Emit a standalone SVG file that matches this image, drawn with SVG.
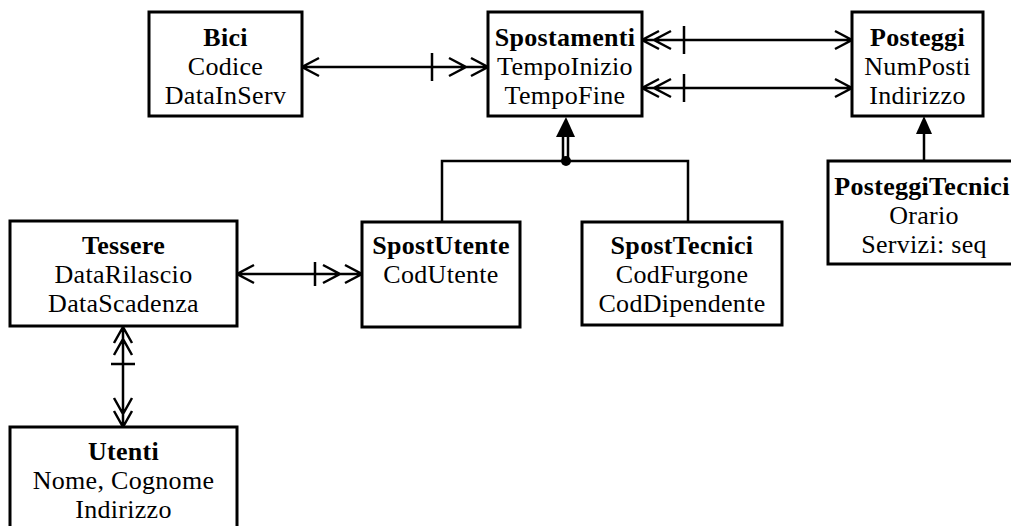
<svg xmlns="http://www.w3.org/2000/svg" width="1011" height="526" viewBox="0 0 1011 526">
<style>
.box{fill:#fff;stroke:#000;stroke-width:3}
.t{font-family:"Liberation Serif","Times New Roman",serif;font-size:26px;text-anchor:middle;fill:#000;letter-spacing:0.3px}
.b{font-weight:bold;letter-spacing:0.3px}
.ln{fill:none;stroke:#000;stroke-width:2.5}
.fill{fill:#000;stroke:none}
</style>
<rect width="1011" height="526" fill="#fff"/>
<g id="connectors">
  <!-- Bici - Spostamenti -->
  <path class="ln" d="M302,67 H488 M319,58 L302,67 L319,76 M432,53 V81 M449,58 L466,67 L449,76 M471,58 L488,67 L471,76"/>
  <!-- Spostamenti - Posteggi (upper) -->
  <path class="ln" d="M642,40 H852 M659,31 L642,40 L659,49 M671,31 L654,40 L671,49 M684,26 V54 M835,31 L852,40 L835,49"/>
  <!-- Spostamenti - Posteggi (lower) -->
  <path class="ln" d="M642,88 H852 M659,79 L642,88 L659,97 M671,79 L654,88 L671,97 M684,74 V102 M835,79 L852,88 L835,97"/>
  <!-- Tessere - SpostUtente -->
  <path class="ln" d="M237,274 H362 M254,265 L237,274 L254,283 M315,262 V286 M323,265 L340,274 L323,283 M345,265 L362,274 L345,283"/>
  <!-- Tessere - Utenti -->
  <path class="ln" d="M123,326 V427 M114,343 L123,327 L132,343 M114,355 L123,339 L132,355 M111,364 H135 M114,398 L123,414 L132,398 M114,411 L123,427 L132,411"/>
  <!-- Generalization -->
  <path class="ln" d="M442,222 V161 H688 V222"/>
  <path class="ln" d="M563,137 V161 M568,137 V161" stroke-width="2"/>
  <path class="fill" d="M566,117 L575,137 L556,137 Z"/>
  <circle class="fill" cx="566" cy="161" r="5"/>
  <!-- PosteggiTecnici -> Posteggi -->
  <path class="ln" d="M924,161 V132"/>
  <path class="fill" d="M924,116 L932,134 L916,134 Z"/>
</g>
<g id="bici">
  <rect class="box" x="149" y="12" width="153" height="104"/>
  <text class="t b" x="225.5" y="46">Bici</text>
  <text class="t" x="225.5" y="75">Codice</text>
  <text class="t" x="225.5" y="104">DataInServ</text>
</g>
<g id="spostamenti">
  <rect class="box" x="488" y="12" width="154" height="104"/>
  <text class="t b" x="565" y="46">Spostamenti</text>
  <text class="t" x="565" y="75">TempoInizio</text>
  <text class="t" x="565" y="104">TempoFine</text>
</g>
<g id="posteggi">
  <rect class="box" x="852" y="12" width="131" height="104"/>
  <text class="t b" x="917.5" y="46">Posteggi</text>
  <text class="t" x="917.5" y="75">NumPosti</text>
  <text class="t" x="917.5" y="104">Indirizzo</text>
</g>
<g id="posteggiTecnici">
  <rect class="box" x="828" y="161" width="196" height="103"/>
  <text class="t b" x="922" y="195">PosteggiTecnici</text>
  <text class="t" x="924" y="224">Orario</text>
  <text class="t" x="924" y="253">Servizi: seq</text>
</g>
<g id="tessere">
  <rect class="box" x="10" y="221" width="227" height="105"/>
  <text class="t b" x="123.5" y="254">Tessere</text>
  <text class="t" x="123.5" y="283">DataRilascio</text>
  <text class="t" x="123.5" y="312">DataScadenza</text>
</g>
<g id="spostUtente">
  <rect class="box" x="362" y="222" width="158" height="105"/>
  <text class="t b" x="441" y="254">SpostUtente</text>
  <text class="t" x="441" y="283">CodUtente</text>
</g>
<g id="spostTecnici">
  <rect class="box" x="582" y="222" width="200" height="103"/>
  <text class="t b" x="682" y="254">SpostTecnici</text>
  <text class="t" x="682" y="283">CodFurgone</text>
  <text class="t" x="682" y="312">CodDipendente</text>
</g>
<g id="utenti">
  <rect class="box" x="10" y="427" width="227" height="110"/>
  <text class="t b" x="123.5" y="460">Utenti</text>
  <text class="t" x="123.5" y="489">Nome, Cognome</text>
  <text class="t" x="123.5" y="518">Indirizzo</text>
</g>
</svg>
